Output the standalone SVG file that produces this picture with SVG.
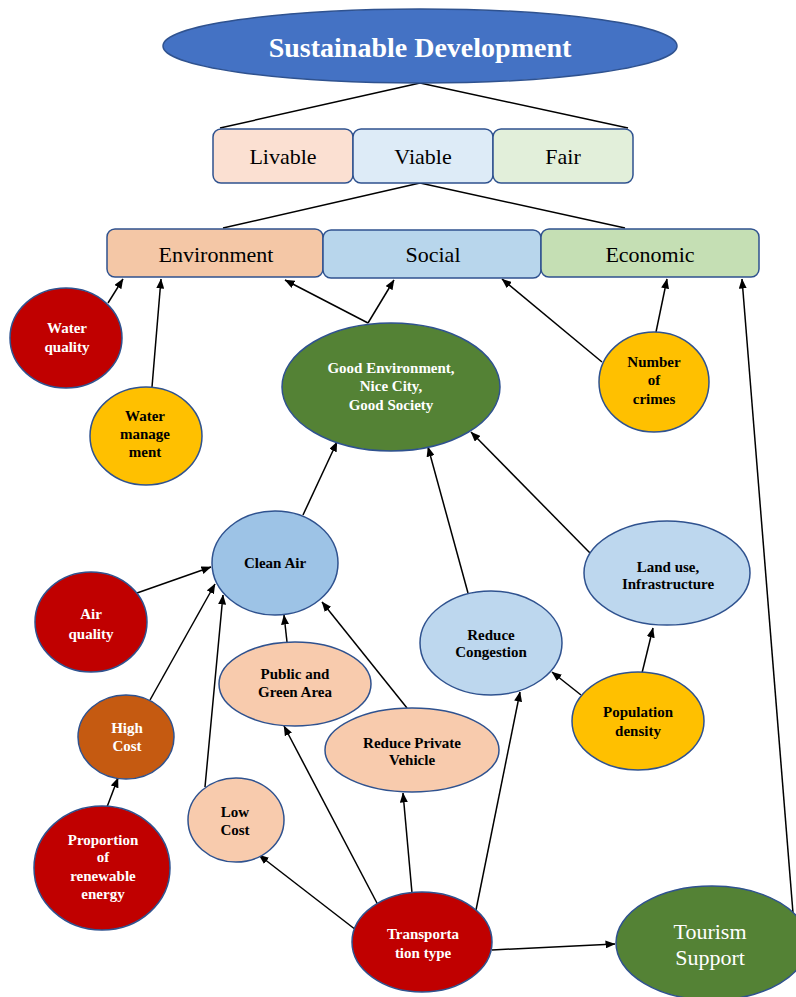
<svg xmlns="http://www.w3.org/2000/svg" width="796" height="997" viewBox="0 0 796 997">
<defs>
<marker id="ah" markerUnits="userSpaceOnUse" markerWidth="10" markerHeight="8" refX="9.5" refY="4" orient="auto">
<path d="M0,0 L10,4 L0,8 z" fill="#000"/>
</marker>
<style>
.nd{stroke:#2F528F;stroke-width:1.5}
.box{stroke:#2F528F;stroke-width:1.5}
.ln{stroke:#000;stroke-width:1.5;fill:none}
.ar{stroke:#000;stroke-width:1.5;fill:none;marker-end:url(#ah)}
.t{font-family:"Liberation Serif","Times New Roman",serif;text-anchor:middle}
.b{font-weight:bold;font-size:15px}
.w{fill:#fff}
.k{fill:#000}
.big{font-size:22px;fill:#000}
.red{fill:#C00000}
.yel{fill:#FFC000}
.grn{fill:#548235}
.blu{fill:#BDD7EE}
.pch{fill:#F8CBAD}
</style>
</defs>
<rect width="796" height="997" fill="#fff"/>

<g id="connectors">
<line class="ln" x1="420" y1="83" x2="220" y2="128"/>
<line class="ln" x1="420" y1="83" x2="628" y2="128"/>
<line class="ln" x1="420" y1="183" x2="223" y2="228"/>
<line class="ln" x1="420" y1="183" x2="625" y2="228"/>
<line class="ar" x1="108" y1="303" x2="123" y2="279"/>
<line class="ar" x1="152" y1="387" x2="161" y2="279"/>
<line class="ar" x1="368" y1="323" x2="285" y2="280"/>
<line class="ar" x1="368" y1="323" x2="394" y2="280"/>
<line class="ar" x1="602" y1="362" x2="502" y2="279"/>
<line class="ar" x1="656" y1="332" x2="667" y2="279"/>
<line class="ar" x1="793" y1="913" x2="742" y2="279"/>
<line class="ar" x1="303" y1="515" x2="337" y2="442"/>
<line class="ar" x1="468" y1="593" x2="428" y2="447"/>
<line class="ar" x1="590" y1="553" x2="471" y2="432"/>
<line class="ar" x1="137" y1="593" x2="211" y2="567"/>
<line class="ar" x1="150" y1="700" x2="215" y2="584"/>
<line class="ar" x1="205" y1="787" x2="223" y2="595"/>
<line class="ar" x1="287" y1="642" x2="284" y2="615"/>
<line class="ar" x1="407" y1="708" x2="322" y2="602"/>
<line class="ar" x1="107" y1="807" x2="118" y2="778"/>
<line class="ar" x1="642" y1="673" x2="653" y2="628"/>
<line class="ar" x1="581" y1="695" x2="552" y2="672"/>
<line class="ar" x1="356" y1="930" x2="259" y2="855"/>
<line class="ar" x1="378" y1="905" x2="284" y2="726"/>
<line class="ar" x1="412" y1="893" x2="403" y2="793"/>
<line class="ar" x1="476" y1="910" x2="520" y2="692"/>
<line class="ar" x1="492" y1="950" x2="615" y2="944"/>
</g>

<g id="sustainable-development">
<ellipse class="nd" cx="420" cy="46" rx="257" ry="37" fill="#4472C4"/>
<text class="t w" x="420" y="57" font-size="28" font-weight="bold">Sustainable Development</text>
</g>

<g id="livable">
<rect class="box" x="213" y="129" width="140" height="54" rx="8" fill="#FBE0D2"/>
<text class="t big" x="283" y="164">Livable</text>
</g>
<g id="viable">
<rect class="box" x="353" y="129" width="140" height="54" rx="8" fill="#DDEBF7"/>
<text class="t big" x="423" y="164">Viable</text>
</g>
<g id="fair">
<rect class="box" x="493" y="129" width="140" height="54" rx="8" fill="#E2EFDA"/>
<text class="t big" x="563" y="164">Fair</text>
</g>

<g id="environment">
<rect class="box" x="107" y="229" width="216" height="48" rx="8" fill="#F4C7A6"/>
<text class="t big" x="216" y="262">Environment</text>
</g>
<g id="social">
<rect class="box" x="323" y="230" width="218" height="48" rx="8" fill="#B8D6EC"/>
<text class="t big" x="433" y="262">Social</text>
</g>
<g id="economic">
<rect class="box" x="541" y="229" width="218" height="48" rx="8" fill="#C5DFB4"/>
<text class="t big" x="650" y="262">Economic</text>
</g>

<g id="water-quality">
<ellipse class="nd red" cx="66" cy="338" rx="56" ry="50"/>
<text class="t b w" x="67" y="333">Water</text>
<text class="t b w" x="67" y="352">quality</text>
</g>

<g id="water-management">
<ellipse class="nd yel" cx="146" cy="436" rx="56" ry="49"/>
<text class="t b k" x="145" y="421">Water</text>
<text class="t b k" x="145" y="439">manage</text>
<text class="t b k" x="145" y="457">ment</text>
</g>

<g id="good-environment">
<ellipse class="nd grn" cx="391" cy="387" rx="109" ry="64"/>
<text class="t b w" x="391" y="373">Good Environment,</text>
<text class="t b w" x="391" y="391">Nice City,</text>
<text class="t b w" x="391" y="410">Good Society</text>
</g>

<g id="number-of-crimes">
<ellipse class="nd yel" cx="654" cy="382" rx="55" ry="50"/>
<text class="t b k" x="654" y="367">Number</text>
<text class="t b k" x="654" y="385">of</text>
<text class="t b k" x="654" y="404">crimes</text>
</g>

<g id="clean-air">
<ellipse class="nd" cx="275" cy="563" rx="63" ry="52" fill="#9DC3E6"/>
<text class="t b k" x="275" y="568">Clean Air</text>
</g>

<g id="land-use">
<ellipse class="nd blu" cx="667" cy="573" rx="83" ry="52"/>
<text class="t b k" x="668" y="572">Land use,</text>
<text class="t b k" x="668" y="589">Infrastructure</text>
</g>

<g id="air-quality">
<ellipse class="nd red" cx="91" cy="622" rx="56" ry="50"/>
<text class="t b w" x="91" y="619">Air</text>
<text class="t b w" x="91" y="639">quality</text>
</g>

<g id="reduce-congestion">
<ellipse class="nd blu" cx="491" cy="643" rx="71" ry="52"/>
<text class="t b k" x="491" y="640">Reduce</text>
<text class="t b k" x="491" y="657">Congestion</text>
</g>

<g id="public-green-area">
<ellipse class="nd pch" cx="295" cy="684" rx="76" ry="42"/>
<text class="t b k" x="295" y="679">Public and</text>
<text class="t b k" x="295" y="697">Green Area</text>
</g>

<g id="population-density">
<ellipse class="nd yel" cx="638" cy="721" rx="66" ry="49"/>
<text class="t b k" x="638" y="717">Population</text>
<text class="t b k" x="638" y="736">density</text>
</g>

<g id="high-cost">
<ellipse class="nd" cx="126" cy="737" rx="48" ry="42" fill="#C55A11"/>
<text class="t b w" x="127" y="733">High</text>
<text class="t b w" x="127" y="751">Cost</text>
</g>

<g id="reduce-private-vehicle">
<ellipse class="nd pch" cx="412" cy="750" rx="87" ry="42"/>
<text class="t b k" x="412" y="748">Reduce Private</text>
<text class="t b k" x="412" y="765">Vehicle</text>
</g>

<g id="low-cost">
<ellipse class="nd pch" cx="236" cy="820" rx="48" ry="42"/>
<text class="t b k" x="235" y="817">Low</text>
<text class="t b k" x="235" y="835">Cost</text>
</g>

<g id="proportion-renewable">
<ellipse class="nd red" cx="102" cy="868" rx="68" ry="62"/>
<text class="t b w" x="103" y="845">Proportion</text>
<text class="t b w" x="103" y="862">of</text>
<text class="t b w" x="103" y="881">renewable</text>
<text class="t b w" x="103" y="899">energy</text>
</g>

<g id="transportation-type">
<ellipse class="nd red" cx="422" cy="942" rx="70" ry="50"/>
<text class="t b w" x="423" y="939">Transporta</text>
<text class="t b w" x="423" y="958">tion type</text>
</g>

<g id="tourism-support">
<ellipse class="nd grn" cx="712" cy="943" rx="96" ry="57"/>
<text class="t w" x="710" y="939" font-size="22">Tourism</text>
<text class="t w" x="710" y="965" font-size="22">Support</text>
</g>
</svg>
